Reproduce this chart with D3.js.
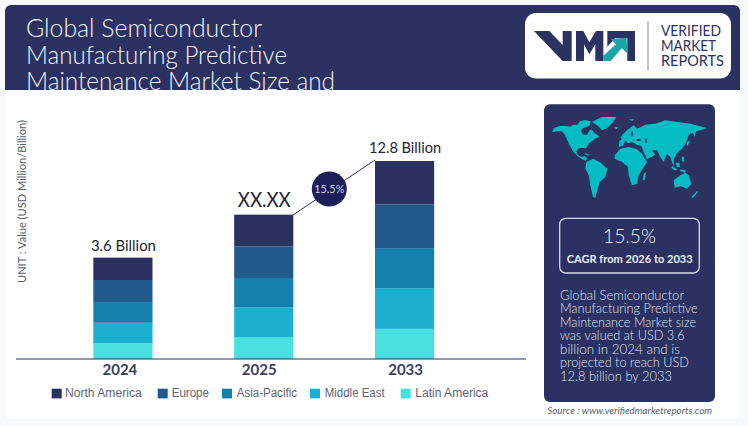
<!DOCTYPE html>
<html>
<head>
<meta charset="utf-8">
<script src="https://cdn.jsdelivr.net/npm/d3@7"></script>
<style>
  html, body { margin: 0; padding: 0; background: #f8f9fb; overflow: hidden; }
  svg { display: block; }
</style>
</head>
<body>
<svg id="chart" width="748" height="426"></svg>
<script>
// === Data === //

var years = ["2024", "2025", "2033"]
var regions = ["North America", "Europe", "Asia-Pacific", "Middle East", "Latin America"]
var regionColors = ["#2b3160", "#235a8c", "#1580ab", "#1cb0d0", "#48e0e0"]

// the picture has no y axis and the bars are not to scale with their labels,
// so these are read as bar height, tallest bar = 100
var northAmerica = [11.3, 16.0, 21.9]
var europe = [11.1, 16.0, 22.1]
var asiaPacific = [10.5, 14.8, 20.2]
var middleEast = [10.4, 15.0, 20.6]
var latinAmerica = [7.9, 11.1, 15.2]

var barLabels = ["3.6 Billion", "XX.XX", "12.8 Billion"]
var cagrLabel = "15.5%"

var titleLines = ["Global Semiconductor", "Manufacturing Predictive", "Maintenance Market Size and"]
var logoLines = ["VERIFIED", "MARKET", "REPORTS"]
var summaryLines = [
  "Global Semiconductor",
  "Manufacturing Predictive",
  "Maintenance Market size",
  "was valued at USD 3.6",
  "billion in 2024 and is",
  "projected to reach USD",
  "12.8 billion by 2033"
]

// === Set up === //

var navy = "#2b3160"
var svg = d3.select("#chart")
var defs = svg.append("defs")

defs.append("clipPath").attr("id", "headerClip")
  .append("rect").attr("x", 5).attr("y", 5).attr("width", 735).attr("height", 85)

// text helper, textLength keeps widths the same as the picture
function label(parent, str, x, y, size, fill, width, opts) {
  opts = opts || {}
  var t = parent.append("text")
    .attr("x", x).attr("y", y)
    .attr("font-family", opts.family || "Lato")
    .attr("font-size", size)
    .attr("font-weight", opts.weight || 400)
    .attr("font-style", opts.style || "normal")
    .attr("text-anchor", opts.anchor || "start")
    .attr("fill", fill)
    .text(str)
  if (width) t.attr("textLength", width).attr("lengthAdjust", "spacingAndGlyphs")
  return t
}

// several lines in one text element
function block(parent, lines, x, bases, widths, size, fill, weight) {
  var t = parent.append("text")
    .attr("font-family", "Lato")
    .attr("font-size", size)
    .attr("font-weight", weight)
    .attr("fill", fill)
  lines.forEach(function(d, i) {
    t.append("tspan").attr("x", x).attr("y", bases[i])
      .attr("textLength", widths[i]).attr("lengthAdjust", "spacingAndGlyphs")
      .text(d)
  })
  return t
}

// card and header
svg.append("rect").attr("x", 5).attr("y", 5).attr("width", 735).attr("height", 414)
  .attr("rx", 6).attr("fill", "#fff")
svg.append("path")
  .attr("d", "M5,90V11a6,6 0 0 1 6,-6H734a6,6 0 0 1 6,6V90Z")
  .attr("fill", navy)

var titleG = svg.append("g").attr("clip-path", "url(#headerClip)")
block(titleG, titleLines, 26, [37, 63.5, 90], [236, 261, 309], 25, "#f4f5fa", 300)

// === Logo === //

var logo = svg.append("g")
logo.append("rect").attr("x", 525).attr("y", 13).attr("width", 206).attr("height", 65.5)
  .attr("rx", 11).attr("fill", "#fff")

var mark = logo.append("g").attr("transform", "translate(520,5) scale(0.3333)")
mark.append("path").attr("fill", navy)
  .attr("d", "M42,78H88L128,120V78H155V168H128Z")
mark.append("path").attr("fill", navy)
  .attr("d", "M168,168V78H190L208,112L228,78H250V168H226V118L208,148L192,118V168Z")
mark.append("path").attr("fill", navy)
  .attr("d", "M262,78H345V168H322V100H285L262,125Z")
mark.append("path").attr("fill", "#1aa6a6")
  .attr("d", "M250,152L288,118L272,102L320,98L322,145L305,130L272,168H250Z")

logo.append("line").attr("x1", 648).attr("x2", 648).attr("y1", 21).attr("y2", 70.7)
  .attr("stroke", "#8a7f95").attr("stroke-width", 1)

block(logo, logoLines, 661, [35.7, 50.7, 65.7], [60, 55, 63], 14.5, navy, 400)

// === Chart === //

var baseline = 359
var x = d3.scaleBand().domain(years).range([52.5, 475]).paddingInner(0.58).paddingOuter(0.29)
var y = d3.scaleLinear().domain([0, 100]).range([baseline, 161])
var seriesByRegion = [northAmerica, europe, asiaPacific, middleEast, latinAmerica]

var table = years.map(function(year, i) {
  var row = { year: year }
  regions.forEach(function(r, j) { row[r] = seriesByRegion[j][i] })
  return row
})

// latin america sits at the bottom of the stack
var stack = d3.stack().keys(regions.slice().reverse())(table)
var colorOf = d3.scaleOrdinal().domain(regions).range(regionColors)

svg.append("g").selectAll("g").data(stack).join("g")
  .attr("fill", function(d) { return colorOf(d.key) })
  .selectAll("rect").data(function(d) { return d }).join("rect")
  .attr("x", function(d) { return x(d.data.year) })
  .attr("width", x.bandwidth())
  .attr("y", function(d) { return y(d[1]) })
  .attr("height", function(d) { return y(d[0]) - y(d[1]) })

// x axis, labels sit a little off the bar centers in the picture
var tickNudge = [-3, -4.5, 1]
var axis = svg.append("g").attr("transform", "translate(0," + baseline + ")")
  .call(d3.axisBottom(x).tickSize(0).tickPadding(5))
axis.select(".domain").remove()
axis.selectAll("text")
  .attr("font-family", "Lato").attr("font-size", 15).attr("font-weight", 700)
  .attr("fill", "#3a3f5c")
  .attr("dx", function(d, i) { return tickNudge[i] })
svg.append("line").attr("x1", 16).attr("x2", 526).attr("y1", baseline).attr("y2", baseline)
  .attr("stroke", navy).attr("stroke-width", 1)

// labels over the bars
var labelSize = [15, 21, 16]
var labelWidth = [65, 53, 72]
var labelGap = [7, 8, 8.5]
years.forEach(function(year, i) {
  var total = seriesByRegion.reduce(function(s, a) { return s + a[i] }, 0)
  label(svg, barLabels[i], x(year) + x.bandwidth() / 2 + 0.5, y(total) - labelGap[i], labelSize[i], "#22252f", labelWidth[i], { anchor: "middle" })
})

// cagr line + bubble
svg.append("line").attr("x1", 293).attr("y1", 215).attr("x2", 375).attr("y2", 160)
  .attr("stroke", navy).attr("stroke-width", 1)
svg.append("circle").attr("cx", 329.3).attr("cy", 189).attr("r", 17.5)
  .attr("fill", "#1d2058")
label(svg, cagrLabel, 329.3, 193, 11, "#c9cfea", 30, { anchor: "middle" })

// y label
var yLab = svg.append("g").attr("transform", "translate(26,283) rotate(-90)")
label(yLab, "UNIT : Value (USD Million/Billion)", 0, 0, 11, "#5a5e68", 163)

// legend
var legendSwatch = [51.7, 157.7, 222, 310, 400.7]
var legendText = [65, 171.7, 236.7, 324.7, 415.3]
var legendWidth = [76.7, 37.3, 60.3, 60, 73]
regions.forEach(function(r, i) {
  svg.append("rect").attr("x", legendSwatch[i]).attr("y", 388.7)
    .attr("width", 10).attr("height", 9.7).attr("fill", colorOf(r))
  label(svg, r, legendText[i], 396.7, 12, "#5f6472", legendWidth[i], { family: "Liberation Sans" })
})

// === Side panel === //

var panel = svg.append("g")
panel.append("rect").attr("x", 544).attr("y", 104.3).attr("width", 171).attr("height", 297.7)
  .attr("rx", 6).attr("fill", navy)

// world map
var map = panel.append("g").attr("fill", "#03bcc4")
var west = map.append("g").attr("transform", "translate(548,112) scale(0.3333)")
var westShapes = [
  "M12,60L18,48L35,42L50,42L68,44L75,38L88,38L95,28L112,24L128,28L125,40L118,44L105,48L100,55L105,68L118,68L122,58L130,52L138,62L150,70L152,76L140,80L132,88L125,92L118,102L112,110L108,108L100,108L90,110L85,118L88,128L100,135L110,132L118,140L112,146L100,140L88,132L75,118L65,100L58,85L50,68L42,58L28,58Z",
  "M132,30L160,15L205,15L195,30L178,48L162,55L150,42Z",
  "M115,150L135,140L155,150L178,170L172,195L155,210L148,235L142,258L135,255L128,225L122,190L112,170Z",
  "M198,45L210,45L205,52Z",
  "M110,123L124,128L122,131L110,127Z"
]
westShapes.forEach(function(d) { west.append("path").attr("d", d) })

var east = map.append("g").attr("transform", "translate(622,112) scale(0.3333)")
var eastShapes = [
  "M0,70L15,55L35,40L45,50L70,38L100,35L130,25L165,30L205,35L255,48L235,55L222,58L218,75L212,62L200,68L195,85L188,100L178,112L170,118L162,128L156,140L155,165L150,150L145,135L135,125L125,150L115,135L105,115L90,115L100,128L75,142L65,120L58,102L45,98L30,90L20,95L10,85L5,100L-10,105L-8,88L0,80Z",
  "M-22,130L-5,110L20,105L45,112L60,125L65,135L75,150L50,190L45,215L30,220L20,190L18,165L0,150L-22,140Z",
  "M155,205L175,190L190,182L200,190L208,215L195,230L175,222L158,228Z",
  "M65,185L72,180L68,205L62,203Z",
  "M195,90L205,85L195,105Z",
  "M-5,75L5,70L3,85Z",
  "M150,162L165,172L160,176L148,168Z",
  "M175,172L192,176L188,182L175,178Z",
  "M180,133L186,135L186,150L180,148Z",
  "M162,152L172,152L174,165L164,165Z",
  "M208,255L226,236L228,240L212,258Z",
  "M20,22L38,22L30,27Z"
]
eastShapes.forEach(function(d) { east.append("path").attr("d", d) })

// inland seas
var seas = panel.append("g").attr("fill", navy)
seas.append("ellipse").attr("cx", 548 + 110 / 3).attr("cy", 112 + 58 / 3).attr("rx", 3.2).attr("ry", 2)
seas.append("ellipse").attr("cx", 548 + 98 / 3).attr("cy", 112 + 120 / 3).attr("rx", 3).attr("ry", 2)
seas.append("ellipse").attr("cx", 622 + 22 / 3).attr("cy", 112 + 96 / 3).attr("rx", 6).attr("ry", 1)
seas.append("ellipse").attr("cx", 622 + 50 / 3).attr("cy", 112 + 84 / 3).attr("rx", 2.5).attr("ry", 1)
seas.append("ellipse").attr("cx", 622 + 72 / 3).attr("cy", 112 + 86 / 3).attr("rx", 1).attr("ry", 2.4)
seas.append("ellipse").attr("cx", 622 + 30 / 3).attr("cy", 112 + 65 / 3).attr("rx", 1).attr("ry", 3)

// cagr box
panel.append("rect").attr("x", 559.7).attr("y", 218.3).attr("width", 139.6).attr("height", 54.7)
  .attr("rx", 6).attr("fill", "none").attr("stroke", "#d5d9ea").attr("stroke-width", 1.3)
label(panel, cagrLabel, 629.5, 243, 20, "#f2f3fa", 53, { anchor: "middle", weight: 300 })
label(panel, "CAGR from 2026 to 2033", 629.7, 263, 11, "#eceef8", 126, { anchor: "middle", weight: 700 })

block(panel, summaryLines, 560, [299.7, 313, 326.7, 340, 353.7, 367.3, 380.7],
  [124, 137.7, 136, 124.6, 120, 129, 112], 13, "#dfe2f0", 300)

label(svg, "Source : www.verifiedmarketreports.com", 547.3, 413.7, 10, "#5a5e68", 164.7, { style: "italic" })
</script>
</body>
</html>
